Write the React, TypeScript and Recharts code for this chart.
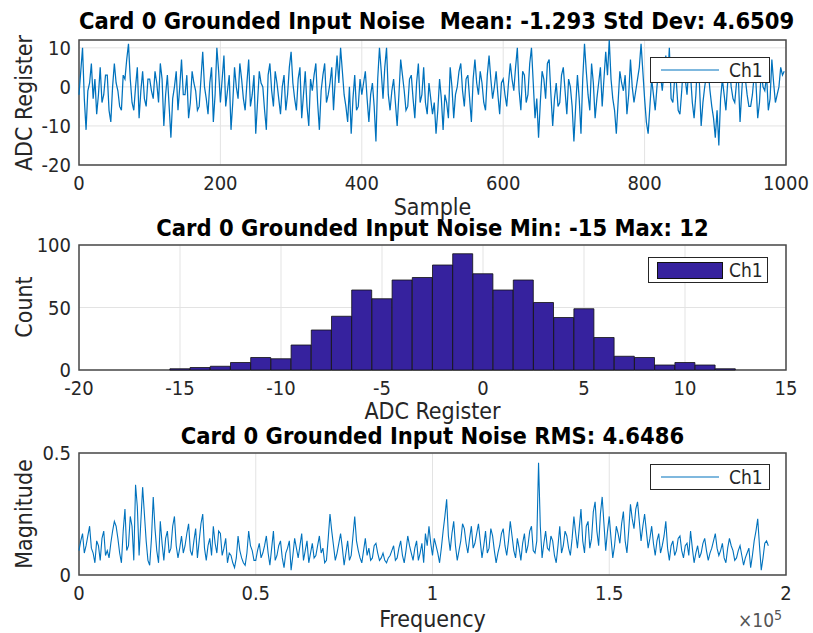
import { LineChart, Line, BarChart, Bar, XAxis, YAxis, CartesianGrid, ReferenceArea, Legend } from 'recharts'

// ADC trace, one value every 2.5 samples
const sampleStep = 2.5
const adcSamples = [
  -2, 4, 10, -3, -11, -1, 1, 6, -3, 2, -7, -2, 5, -4, -2, 3, 3, -6, -9, 0,
  6, 1, -1, -5, -6, 3, 2, 7, 11, 2, -4, -6, 0, 5, -8, -1, 4, -3, -5, 2,
  2, -1, -3, 4, 1, -4, 6, 2, -10, -2, 3, -5, -13, -3, 0, 4, -6, 0, 7, -2,
  -2, 3, -8, -4, 4, 1, -1, -6, -5, 2, 9, 0, -3, -7, 1, 5, -9, -2, 10, 4,
  -4, 2, 8, -5, -1, 3, -11, -4, 5, 0, -3, 6, 2, -3, -6, 1, 7, -5, -2, 3,
  -12, -4, 4, 1, 0, -6, -11, 3, 6, -1, -5, 4, 1, -3, -7, 0, 3, -6, -2, 5,
  9, 1, -3, -6, 2, 5, -8, -2, 4, -5, -10, 2, -1, 3, 6, -4, -11, -1, 3, 6,
  -4, -2, 1, 5, -6, 2, 8, 1, 10, 4, -2, -5, -9, 0, -12, -3, 3, -6, -5, 2,
  -2, 1, 4, -3, -9, -2, 1, -5, -14, 2, 10, 4, -3, 5, 10, -2, -6, -1, 2, -4,
  -10, -2, 7, 3, -1, -6, -5, 2, 3, -3, -8, 1, 6, -4, -2, 5, -4, -7, 1, -3,
  -7, -4, -12, -6, 2, -3, -11, -2, -4, -8, 5, 0, -8, -2, 0, 4, 6, -1, -5, 2,
  3, -3, -9, 2, 7, 1, -2, 4, 1, -4, -6, 3, 8, 2, -3, 0, 4, -2, -7, 1,
  2, -2, -5, 1, 6, 2, -1, 5, 10, -1, -6, 4, 3, -4, -2, 6, 10, 1, -8, -3,
  -13, -4, 4, 2, -3, 6, 7, -2, -10, -3, 1, -5, -4, 3, 5, -1, -7, 2, 0, -5,
  -14, -5, 3, -3, -12, 2, 11, 4, -2, -6, 6, 1, -8, -3, 1, 5, -5, 2, 9, 3,
  12, 2, -3, -6, -12, -4, 4, 1, -1, 3, -7, -2, 7, 0, -4, -1, 2, 5, 11, 4,
  -3, -9, -12, -5, 2, -2, -6, 0, 5, 3, -1, 4, 8, 1, 10, -3, -4, 2, 1, -6,
  -7, -1, 6, 2, -2, 5, 3, -4, -8, -2, 7, 1, -10, -4, 0, 3, 4, -1, -5, -8,
  -13, -6, -15, -3, 2, -2, -6, 1, 5, 0, -3, -4, 1, 3, -9, -1, 6, 2, -2, -5,
  -5, -2, 3, 1, -8, -4, 4, 0, -1, 3, -6, -3, 7, 1, -4, -2, 0, 5, 3, 4,
]
const sampleTicks = [0, 200, 400, 600, 800, 1000]
const adcTicks = [-20, -10, 0, 10]

// histogram
const histBins = [-15, -14, -13, -12, -11, -10, -9, -8, -7, -6, -5, -4, -3, -2, -1, 0, 1, 2, 3, 4, 5, 6, 7, 8, 9, 10, 11, 12]
const histCounts = [1, 2, 3, 6, 10, 9, 20, 32, 43, 64, 57, 72, 74, 84, 93, 77, 64, 72, 54, 42, 49, 26, 11, 10, 4, 6, 4, 1]
const histTicks = [-20, -15, -10, -5, 0, 5, 10, 15]
const countTicks = [0, 50, 100]

// spectrum, one point per 500 Hz
const freqStep = 500
const magnitude = [
  0.10, 0.14, 0.17, 0.09, 0.12, 0.16, 0.20, 0.11, 0.09, 0.05, 0.14, 0.12, 0.06, 0.15, 0.18, 0.08, 0.10, 0.07, 0.13, 0.18,
  0.22, 0.20, 0.15, 0.09, 0.05, 0.18, 0.27, 0.10, 0.12, 0.24, 0.20, 0.06, 0.37, 0.28, 0.08, 0.22, 0.36, 0.25, 0.14, 0.06,
  0.04, 0.15, 0.32, 0.19, 0.10, 0.05, 0.22, 0.13, 0.06, 0.15, 0.18, 0.09, 0.11, 0.20, 0.24, 0.12, 0.07, 0.11, 0.16, 0.09,
  0.12, 0.17, 0.21, 0.10, 0.08, 0.14, 0.19, 0.07, 0.14, 0.21, 0.25, 0.11, 0.06, 0.12, 0.15, 0.08, 0.20, 0.13, 0.09, 0.18,
  0.17, 0.08, 0.11, 0.15, 0.05, 0.09, 0.08, 0.05, 0.03, 0.07, 0.16, 0.10, 0.07, 0.05, 0.04, 0.09, 0.18, 0.12, 0.10, 0.06,
  0.06, 0.10, 0.13, 0.07, 0.09, 0.12, 0.16, 0.09, 0.04, 0.11, 0.18, 0.06, 0.08, 0.12, 0.14, 0.07, 0.03, 0.09, 0.11, 0.14,
  0.02, 0.08, 0.15, 0.11, 0.07, 0.12, 0.17, 0.06, 0.10, 0.14, 0.05, 0.09, 0.13, 0.07, 0.08, 0.12, 0.16, 0.09, 0.11, 0.05,
  0.06, 0.15, 0.25, 0.18, 0.12, 0.06, 0.09, 0.13, 0.17, 0.11, 0.04, 0.09, 0.14, 0.06, 0.08, 0.16, 0.24, 0.14, 0.10, 0.07,
  0.05, 0.10, 0.15, 0.08, 0.11, 0.06, 0.07, 0.12, 0.13, 0.09, 0.06, 0.07, 0.09, 0.06, 0.05, 0.07, 0.08, 0.10, 0.12, 0.06,
  0.07, 0.11, 0.14, 0.08, 0.05, 0.10, 0.16, 0.12, 0.09, 0.06, 0.11, 0.14, 0.06, 0.09, 0.13, 0.05, 0.17, 0.12, 0.20, 0.13,
  0.08, 0.15, 0.12, 0.09, 0.05, 0.11, 0.18, 0.24, 0.31, 0.16, 0.10, 0.17, 0.22, 0.12, 0.06, 0.10, 0.14, 0.21, 0.19, 0.13,
  0.09, 0.15, 0.20, 0.11, 0.13, 0.17, 0.21, 0.14, 0.07, 0.12, 0.18, 0.09, 0.11, 0.19, 0.16, 0.10, 0.05, 0.09, 0.12, 0.17,
  0.19, 0.12, 0.08, 0.14, 0.22, 0.16, 0.10, 0.07, 0.15, 0.11, 0.06, 0.13, 0.17, 0.09, 0.12, 0.18, 0.20, 0.10, 0.09, 0.14,
  0.46, 0.20, 0.07, 0.13, 0.18, 0.11, 0.10, 0.16, 0.14, 0.08, 0.05, 0.12, 0.20, 0.09, 0.12, 0.18, 0.16, 0.11, 0.08, 0.15,
  0.24, 0.17, 0.11, 0.19, 0.27, 0.14, 0.09, 0.20, 0.22, 0.11, 0.15, 0.26, 0.30, 0.18, 0.12, 0.25, 0.32, 0.21, 0.10, 0.18,
  0.24, 0.15, 0.07, 0.12, 0.20, 0.17, 0.13, 0.21, 0.26, 0.14, 0.09, 0.18, 0.29, 0.23, 0.19, 0.27, 0.30, 0.22, 0.14, 0.20,
  0.25, 0.18, 0.11, 0.15, 0.20, 0.13, 0.08, 0.14, 0.17, 0.09, 0.12, 0.16, 0.22, 0.11, 0.06, 0.12, 0.14, 0.08, 0.10, 0.15,
  0.16, 0.10, 0.07, 0.12, 0.13, 0.08, 0.18, 0.11, 0.05, 0.09, 0.12, 0.07, 0.09, 0.13, 0.15, 0.10, 0.06, 0.09, 0.11, 0.14,
  0.17, 0.11, 0.08, 0.10, 0.13, 0.07, 0.05, 0.11, 0.15, 0.12, 0.10, 0.06, 0.07, 0.10, 0.12, 0.08, 0.04, 0.07, 0.09, 0.11,
  0.03, 0.08, 0.14, 0.18, 0.23, 0.12, 0.02, 0.07, 0.13, 0.14, 0.12,
]
const freqTicks = [0, 50000, 100000, 150000, 200000]
const magTicks = [0, 0.5]

const timeData = adcSamples.map((v, i) => ({ x: i * sampleStep, ch1: v }))
const histData = histBins.map((b, i) => ({ bin: b, ch1: histCounts[i] }))
const freqData = magnitude.map((v, i) => ({ f: i * freqStep, ch1: v }))

const FONT = '"DejaVu Sans Condensed", "DejaVu Sans", sans-serif'
const BLUE = '#0072BD'
const PURPLE = '#36229e'
const AXIS = '#262626'
const GRID = '#e3e3e3'
const tickStyle = { fill: AXIS, fontSize: 20 }

const abs = (top: number, left: number): React.CSSProperties => ({ position: 'absolute', top, left })

function LegendBox({ bar }: { bar?: boolean }) {
  return (
    <div style={{ width: 118, height: 24, border: '1px solid #262626', background: '#fff', display: 'flex', alignItems: 'center', fontSize: 19, color: AXIS }}>
      {bar ? (
        <div style={{ width: 64, height: 15, marginLeft: 8, background: PURPLE, border: '1px solid #111' }} />
      ) : (
        <svg width={66} height={10} style={{ marginLeft: 10 }}>
          <line x1={0} y1={5} x2={58} y2={5} stroke={BLUE} strokeWidth={1.2} />
        </svg>
      )}
      <span style={{ marginLeft: bar ? 6 : 2 }}>Ch1</span>
    </div>
  )
}

function Title({ text, top }: { text: string; top: number }) {
  return (
    <div style={{ ...abs(top, 79), width: 707, textAlign: 'center', fontWeight: 'bold', fontSize: 23.5, lineHeight: '23px', whiteSpace: 'pre', color: '#000' }}>
      {text}
    </div>
  )
}

function XLabel({ text, top }: { text: string; top: number }) {
  return (
    <div style={{ ...abs(top, 79), width: 707, textAlign: 'center', fontSize: 23, lineHeight: '23px', color: AXIS }}>{text}</div>
  )
}

function YLabel({ text, center }: { text: string; center: number }) {
  return (
    <div style={{ ...abs(center, 24), fontSize: 23, lineHeight: '23px', color: AXIS, whiteSpace: 'nowrap', transform: 'translate(-50%, -50%) rotate(-90deg)' }}>{text}</div>
  )
}

export default function App() {
  return (
    <div style={{ position: 'absolute', top: 0, left: 0, width: 813, height: 633, background: '#fff', fontFamily: FONT, fontStretch: 'condensed', overflow: 'hidden' }}>
      <div style={abs(0, 0)}>
        <LineChart width={813} height={215} data={timeData} margin={{ top: 40, right: 27, bottom: 20, left: 35 }}>
          <CartesianGrid stroke={GRID} vertical horizontal />
          <XAxis dataKey="x" type="number" domain={[0, 1000]} ticks={sampleTicks} tick={tickStyle} tickLine={false} axisLine={false} tickMargin={5} height={30} />
          <YAxis type="number" domain={[-20, 12]} ticks={adcTicks} tick={tickStyle} tickLine={false} axisLine={false} width={44} allowDataOverflow />
          <Line dataKey="ch1" stroke={BLUE} strokeWidth={1.25} dot={false} isAnimationActive={false} />
          <ReferenceArea x1={0} x2={1000} y1={-20} y2={12} fill="none" stroke="#4a4a4a" strokeWidth={1.5} />
          <Legend layout="horizontal" verticalAlign="middle" align="center" wrapperStyle={{ top: 57, left: 650, width: 120 }} content={() => <LegendBox />} />
        </LineChart>
      </div>
      <div style={abs(215, 0)}>
        <BarChart width={813} height={210} data={histData} margin={{ top: 30, right: 27, bottom: 25, left: 35 }} barCategoryGap={0} barGap={0}>
          <CartesianGrid stroke={GRID} vertical horizontal />
          <XAxis dataKey="bin" type="number" domain={[-20, 15]} ticks={histTicks} tick={tickStyle} tickLine={false} axisLine={false} tickMargin={5} height={30} />
          <YAxis type="number" domain={[0, 100]} ticks={countTicks} tick={tickStyle} tickLine={false} axisLine={false} width={44} />
          <Bar dataKey="ch1" fill={PURPLE} stroke="#111" strokeWidth={0.8} isAnimationActive={false} />
          <ReferenceArea x1={-20} x2={15} y1={0} y2={100} fill="none" stroke="#4a4a4a" strokeWidth={1.5} />
          <Legend layout="horizontal" verticalAlign="middle" align="center" wrapperStyle={{ top: 42, left: 648, width: 120 }} content={() => <LegendBox bar />} />
        </BarChart>
      </div>
      <div style={abs(425, 0)}>
        <LineChart width={813} height={208} data={freqData} margin={{ top: 28, right: 27, bottom: 28, left: 35 }}>
          <CartesianGrid stroke={GRID} vertical horizontal />
          <XAxis dataKey="f" type="number" domain={[0, 200000]} ticks={freqTicks} tickFormatter={(v: number) => String(v / 100000)} tick={tickStyle} tickLine={false} axisLine={false} tickMargin={5} height={30} />
          <YAxis type="number" domain={[0, 0.5]} ticks={magTicks} tick={tickStyle} tickLine={false} axisLine={false} width={44} />
          <Line dataKey="ch1" stroke={BLUE} strokeWidth={1.1} dot={false} isAnimationActive={false} />
          <ReferenceArea x1={0} x2={200000} y1={0} y2={0.5} fill="none" stroke="#4a4a4a" strokeWidth={1.5} />
          <Legend layout="horizontal" verticalAlign="middle" align="center" wrapperStyle={{ top: 39, left: 650, width: 120 }} content={() => <LegendBox />} />
        </LineChart>
      </div>

      <Title text="Card 0 Grounded Input Noise  Mean: -1.293 Std Dev: 4.6509" top={10} />
      <Title text="Card 0 Grounded Input Noise Min: -15 Max: 12" top={217} />
      <Title text="Card 0 Grounded Input Noise RMS: 4.6486" top={425} />

      <XLabel text="Sample" top={196} />
      <XLabel text="ADC Register" top={400} />
      <XLabel text="Frequency" top={608} />

      <YLabel text="ADC Register" center={103} />
      <YLabel text="Count" center={307} />
      <YLabel text="Magnitude" center={514} />

      <div style={{ ...abs(607, 738), fontSize: 19, color: '#555' }}>
        ×10<sup style={{ fontSize: 14 }}>5</sup>
      </div>
    </div>
  )
}
